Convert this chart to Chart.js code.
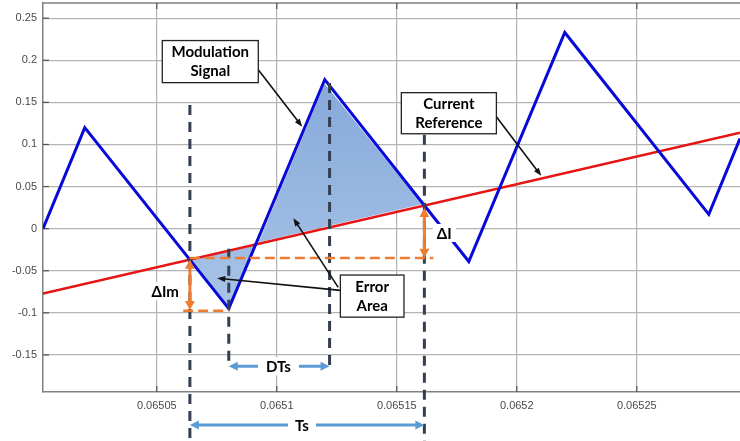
<!DOCTYPE html>
<html>
<head>
<meta charset="utf-8">
<script src="https://cdn.jsdelivr.net/npm/chart.js@4.4.1/dist/chart.umd.min.js"></script>
<style>
html, body { margin: 0; padding: 0; background: #fff; }
</style>
</head>
<body>
<canvas id="chart-area" width="740" height="441"></canvas>
<script>
// axis range and ticks
var xMin = 0.0650026, xMax = 0.065293;
var yMin = -0.194, yMax = 0.268;
var xTicks = [0.06505, 0.0651, 0.06515, 0.0652, 0.06525];
var xTickLabels = ['0.06505', '0.0651', '0.06515', '0.0652', '0.06525'];
var yTicks = [-0.15, -0.1, -0.05, 0, 0.05, 0.1, 0.15, 0.2, 0.25];
var yTickLabels = ['-0.15', '-0.1', '-0.05', '0', '0.05', '0.1', '0.15', '0.2', '0.25'];

// modulation signal (triangle carrier)
var waveX = [0.0650026, 0.06502, 0.06508, 0.06512, 0.06518, 0.06522, 0.06528, 0.065293];
var waveY = [0, 0.120, -0.095, 0.177, -0.039, 0.233, 0.017, 0.107];

// current reference
var refX = [0.0650026, 0.065293];
var refY = [-0.077, 0.114];

// error areas
var err1X = [0.0650638, 0.06508, 0.0650905];
var err1Y = [-0.0372, -0.0935, -0.0205];
var err2X = [0.0650925, 0.06512, 0.0651605];
var err2Y = [-0.0160, 0.172, 0.0290];

function pts(xs, ys) {
    return xs.map((v, i) => ({ x: v, y: ys[i] }));
}

function arrowHead(ctx, x1, y1, x2, y2, len, wid) {
    var a = Math.atan2(y2 - y1, x2 - x1);
    ctx.beginPath();
    ctx.moveTo(x2, y2);
    ctx.lineTo(x2 - len * Math.cos(a) + wid / 2 * Math.sin(a), y2 - len * Math.sin(a) - wid / 2 * Math.cos(a));
    ctx.lineTo(x2 - len * Math.cos(a) - wid / 2 * Math.sin(a), y2 - len * Math.sin(a) + wid / 2 * Math.cos(a));
    ctx.closePath();
    ctx.fill();
}

function arrow(ctx, x1, y1, x2, y2, color, width, len, wid, both) {
    var a = Math.atan2(y2 - y1, x2 - x1);
    ctx.save();
    ctx.strokeStyle = color;
    ctx.fillStyle = color;
    ctx.lineWidth = width;
    ctx.setLineDash([]);
    var sx = x1, sy = y1;
    if (both) { sx = x1 + len * 0.7 * Math.cos(a); sy = y1 + len * 0.7 * Math.sin(a); }
    var ex = x2 - len * 0.7 * Math.cos(a), ey = y2 - len * 0.7 * Math.sin(a);
    ctx.beginPath(); ctx.moveTo(sx, sy); ctx.lineTo(ex, ey); ctx.stroke();
    arrowHead(ctx, x1, y1, x2, y2, len, wid);
    if (both) arrowHead(ctx, x2, y2, x1, y1, len, wid);
    ctx.restore();
}

function label(ctx, text, x, y, padX) {
    ctx.save();
    ctx.font = 'bold 15px Lato';
    var w = ctx.measureText(text).width;
    ctx.fillStyle = '#fff';
    ctx.fillRect(x - w / 2 - padX, y - 9, w + padX * 2, 18);
    ctx.fillStyle = '#000';
    ctx.textAlign = 'center';
    ctx.textBaseline = 'middle';
    ctx.fillText(text, x, y + 1);
    ctx.restore();
}

var frame = {
    id: 'frame',
    beforeDatasetsDraw(chart) {
        var ctx = chart.ctx, a = chart.chartArea;
        var xs = chart.scales.x, ys = chart.scales.y;
        ctx.save();
        ctx.strokeStyle = '#808080';
        ctx.lineWidth = 1.5;
        ctx.beginPath(); ctx.moveTo(a.left, a.top); ctx.lineTo(a.right, a.top); ctx.stroke();
        ctx.strokeStyle = '#505050';
        ctx.lineWidth = 1.2;
        yTicks.forEach(v => {
            var p = ys.getPixelForValue(v);
            ctx.beginPath(); ctx.moveTo(a.left, p); ctx.lineTo(a.left + 6, p); ctx.stroke();
        });
        xTicks.forEach(v => {
            var p = xs.getPixelForValue(v);
            ctx.beginPath(); ctx.moveTo(p, a.bottom); ctx.lineTo(p, a.bottom - 6); ctx.stroke();
            ctx.beginPath(); ctx.moveTo(p, a.top); ctx.lineTo(p, a.top + 6); ctx.stroke();
        });
        ctx.restore();
    }
};

var notes = {
    id: 'notes',
    afterDatasetsDraw(chart) {
        var ctx = chart.ctx;
        var xs = chart.scales.x, ys = chart.scales.y;
        var px = v => xs.getPixelForValue(v), py = v => ys.getPixelForValue(v);

        // dark dashed guides
        ctx.save();
        ctx.strokeStyle = '#333f50';
        ctx.lineWidth = 3;
        ctx.setLineDash([10, 7]);
        [[0.0650638, 0.147, -0.26], [0.06508, -0.024, -0.1634],
         [0.065122, 0.173, -0.1634], [0.0651615, 0.1115, -0.26]].forEach(g => {
            ctx.beginPath(); ctx.moveTo(px(g[0]), py(g[1])); ctx.lineTo(px(g[0]), py(g[2])); ctx.stroke();
        });

        // orange dashed levels
        ctx.strokeStyle = '#ed7d31';
        ctx.lineWidth = 2.5;
        ctx.setLineDash([10, 5]);
        ctx.beginPath(); ctx.moveTo(px(0.065061), py(-0.0975)); ctx.lineTo(px(0.06508), py(-0.0975)); ctx.stroke();
        ctx.beginPath(); ctx.moveTo(px(0.0650638), py(-0.035)); ctx.lineTo(px(0.0651652), py(-0.035)); ctx.stroke();
        ctx.restore();

        // orange delta arrows
        arrow(ctx, px(0.0650638), py(-0.037), px(0.0650638), py(-0.0965), '#ed7d31', 3, 9, 10, true);
        arrow(ctx, px(0.0651615), py(0.0245), px(0.0651615), py(-0.0345), '#ed7d31', 3, 9, 10, true);

        // blue time arrows
        arrow(ctx, px(0.06508), py(-0.1634), px(0.065122), py(-0.1634), '#5b9bd5', 3, 9, 9, true);
        arrow(ctx, px(0.0650638), py(-0.2331), px(0.0651615), py(-0.2331), '#5b9bd5', 3, 9, 9, true);

        // black pointer arrows
        arrow(ctx, px(0.0650919), py(0.1901), px(0.0651106), py(0.1210), '#111', 1.6, 8, 6, false);
        arrow(ctx, px(0.0651915), py(0.1330), px(0.0652102), py(0.0627), '#111', 1.6, 8, 6, false);
        arrow(ctx, px(0.0651265), py(-0.0733), px(0.0650752), py(-0.0589), '#111', 1.6, 8, 6, false);
        arrow(ctx, px(0.0651256), py(-0.0698), px(0.0651069), py(0.0124), '#111', 1.6, 8, 6, false);

        // labels
        label(ctx, 'ΔIm', px(0.0650535), py(-0.0744), 4);
        label(ctx, 'ΔI', px(0.0651698), py(-0.0051), 4);
        label(ctx, 'DTs', px(0.0651007), py(-0.1634), 8);
        label(ctx, 'Ts', px(0.0651105), py(-0.2331), 7);

        // text boxes
        [[0.0650523, 0.0650923, 0.2234, 0.1734, 'Modulation', 'Signal'],
         [0.0651519, 0.0651915, 0.1615, 0.1127, 'Current', 'Reference'],
         [0.0651265, 0.065153, -0.0551, -0.1051, 'Error', 'Area']].forEach(b => {
            var l = px(b[0]), r = px(b[1]), t = py(b[2]), bt = py(b[3]);
            ctx.save();
            ctx.fillStyle = '#fff';
            ctx.fillRect(l, t, r - l, bt - t);
            ctx.strokeStyle = '#222';
            ctx.lineWidth = 1.3;
            ctx.strokeRect(l, t, r - l, bt - t);
            ctx.fillStyle = '#000';
            ctx.font = 'bold 15px Lato';
            ctx.textAlign = 'center';
            ctx.textBaseline = 'middle';
            var cx = (l + r) / 2, cy = (t + bt) / 2;
            ctx.fillText(b[4], cx, cy - 9);
            ctx.fillText(b[5], cx, cy + 10);
            ctx.restore();
        });
    }
};

function shadeColor(context) {
    var chart = context.chart;
    if (!chart.chartArea) return '#9dbde3';
    var ys = chart.scales.y;
    var g = chart.ctx.createLinearGradient(0, ys.getPixelForValue(0.18), 0, ys.getPixelForValue(-0.1));
    g.addColorStop(0, '#86a9da');
    g.addColorStop(1, '#a9c4e7');
    return g;
}

var ctx = document.getElementById('chart-area').getContext('2d');

var config = {
    type: 'line',
    data: {
        datasets: [{
            data: pts(waveX, waveY),
            borderColor: '#0808d8',
            borderWidth: 3,
            pointRadius: 0,
            fill: false,
            order: 0
        }, {
            data: pts(refX, refY),
            borderColor: '#e81414',
            borderWidth: 2.5,
            pointRadius: 0,
            fill: false,
            order: 1
        }, {
            data: pts(err1X, err1Y),
            borderWidth: 0,
            borderColor: 'rgba(0,0,0,0)',
            backgroundColor: shadeColor,
            pointRadius: 0,
            fill: 'shape',
            order: 2
        }, {
            data: pts(err2X, err2Y),
            borderWidth: 0,
            borderColor: 'rgba(0,0,0,0)',
            backgroundColor: shadeColor,
            pointRadius: 0,
            fill: 'shape',
            order: 2
        }]
    },
    options: {
        responsive: false,
        animation: false,
        events: [],
        layout: { padding: { top: 3, right: 0, bottom: 0, left: 0 } },
        plugins: { legend: { display: false }, tooltip: { enabled: false } },
        scales: {
            x: {
                type: 'linear',
                min: xMin,
                max: xMax,
                afterBuildTicks: s => { s.ticks = xTicks.map(v => ({ value: v })); },
                afterFit: s => { s.height = 49; s.paddingLeft = 0; s.paddingRight = 0; },
                ticks: {
                    callback: (v, i) => xTickLabels[i],
                    font: { family: 'Liberation Sans', size: 11 },
                    color: '#4a4a4a',
                    padding: 7,
                    maxRotation: 0,
                    autoSkip: false
                },
                grid: { color: '#b4b4b4', lineWidth: 1.2, drawTicks: false },
                border: { color: '#808080', width: 1.5 }
            },
            y: {
                type: 'linear',
                min: yMin,
                max: yMax,
                afterBuildTicks: s => { s.ticks = yTicks.map(v => ({ value: v })); },
                afterFit: s => { s.width = 43; s.paddingTop = 0; s.paddingBottom = 0; },
                ticks: {
                    callback: (v, i) => yTickLabels[i],
                    font: { family: 'Liberation Sans', size: 11 },
                    color: '#4a4a4a',
                    padding: 6,
                    autoSkip: false
                },
                grid: { color: '#b4b4b4', lineWidth: 1.2, drawTicks: false },
                border: { color: '#808080', width: 1.5 }
            }
        }
    },
    plugins: [frame, notes]
};

window.myChart = new Chart(ctx, config);
</script>
</body>
</html>
